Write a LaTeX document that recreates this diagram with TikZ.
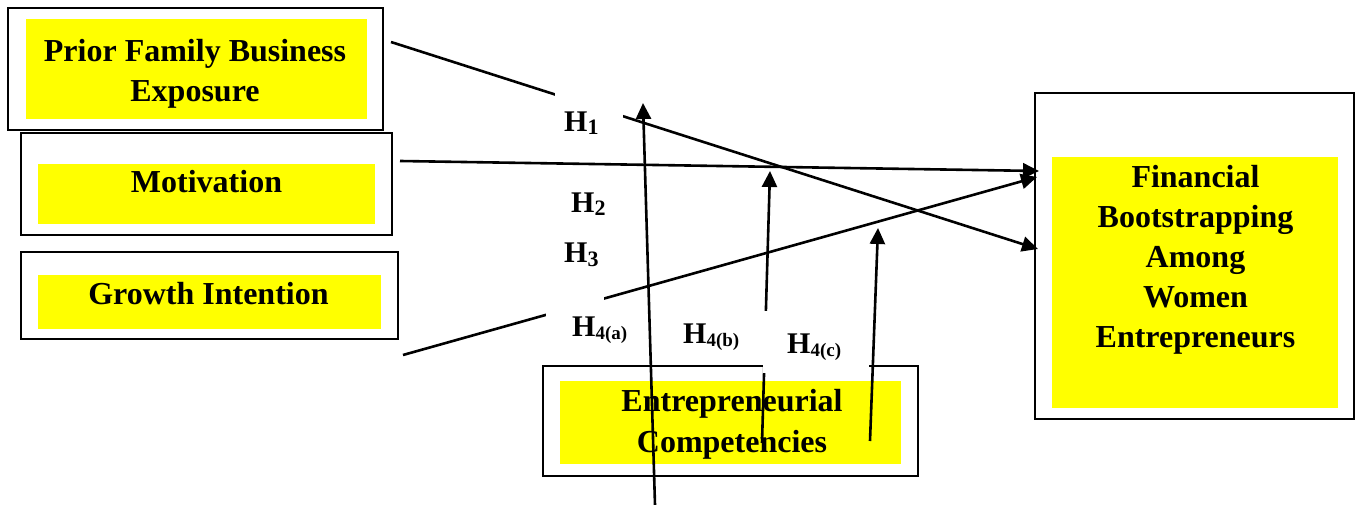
\documentclass[tikz,border=0pt]{standalone}
\usepackage{fontspec}
\setmainfont{Liberation Serif}
\usetikzlibrary{arrows.meta}
\definecolor{ylw}{RGB}{255,255,0}
\newcommand\hyplab[2]{{\fontsize{30}{30}\selectfont H}\raisebox{-3pt}{\fontsize{#2}{#2}\selectfont #1}}
\begin{document}
\begin{tikzpicture}[x=1pt,y=-1pt,
  outerbox/.style={draw=black, line width=2.6pt, fill=white, inner sep=0pt},
  yellowbox/.style={fill=ylw, draw=none, inner sep=0pt},
  boxtext/.style={font=\fontsize{32}{40}\selectfont\bfseries, align=center, inner sep=0pt, anchor=base},
  hlabel/.style={font=\bfseries, inner sep=0pt, anchor=base west},
  mask/.style={fill=white, draw=none, inner sep=0pt},
  link/.style={line width=2.6pt, -{Triangle[length=16pt,width=15pt]}}
]
\useasboundingbox (0,0) rectangle (1358,505);

% boxes
\node[outerbox, minimum width=375pt, minimum height=122pt] (pfo) at (195.5,69) {};
\node[yellowbox, minimum width=341pt, minimum height=100pt] (pfy) at (196.5,69) {};
\node[boxtext] (pft) at (195,102) {Prior Family Business\\Exposure};

\node[outerbox, minimum width=371pt, minimum height=102pt] (moo) at (206.5,184) {};
\node[yellowbox, minimum width=337pt, minimum height=60pt] (moy) at (206.5,194) {};
\node[boxtext] (mot) at (206.5,193) {Motivation};

\node[outerbox, minimum width=377pt, minimum height=87pt] (gio) at (209.5,295.5) {};
\node[yellowbox, minimum width=343pt, minimum height=54pt] (giy) at (209.5,302) {};
\node[boxtext] (git) at (208.5,305) {Growth Intention};

\node[outerbox, minimum width=375pt, minimum height=110pt] (eco) at (730.5,421) {};
\node[yellowbox, minimum width=341pt, minimum height=83pt] (ecy) at (730.5,422.5) {};
\node[boxtext, font=\fontsize{32}{41}\selectfont\bfseries] (ect) at (732,452) {Entrepreneurial\\Competencies};

\node[outerbox, minimum width=319pt, minimum height=326pt] (fbo) at (1194.5,256) {};
\node[yellowbox, minimum width=286pt, minimum height=251pt] (fby) at (1195,282.5) {};
\node[boxtext] (fbt) at (1195.5,347) {Financial\\Bootstrapping\\Among\\Women\\Entrepreneurs};

% connector ends
\coordinate (p1s) at (391,42);
\coordinate (p1e) at (1038,249);
\coordinate (m1s) at (400,161);
\coordinate (m1e) at (1039,171);
\coordinate (g1s) at (403,355);
\coordinate (g1e) at (1037,177);
\coordinate (v1s) at (655,505);
\coordinate (v1e) at (643,103);
\coordinate (v2s) at (762,443);
\coordinate (v2e) at (770,171);
\coordinate (v3s) at (870,441);
\coordinate (v3e) at (878,228);

% connectors
\draw[link] (p1s) -- (p1e);
\draw[link] (m1s) -- (m1e);
\draw[link] (g1s) -- (g1e);
\draw[link] (v1s) -- (v1e);
\draw[link] (v2s) -- (v2e);
\draw[link] (v3s) -- (v3e);

% label backgrounds
\node[mask, minimum width=68pt, minimum height=62pt] (mk1) at (589,119) {};
\node[mask, minimum width=58pt, minimum height=59pt] (mk4a) at (575,325.5) {};
\node[mask, minimum width=106pt, minimum height=62pt] (mk4c) at (816,342) {};

% labels
\node[hlabel] (h1) at (564,132) {\hyplab{1}{22}};
\node[hlabel] (h2) at (571,213) {\hyplab{2}{22}};
\node[hlabel] (h3) at (564,263) {\hyplab{3}{22}};
\node[hlabel] (h4a) at (572,336) {\hyplab{4(a)}{19}};
\node[hlabel] (h4b) at (683,343) {\hyplab{4(b)}{19}};
\node[hlabel] (h4c) at (787,353) {\hyplab{4(c)}{19}};
\end{tikzpicture}
\end{document}
